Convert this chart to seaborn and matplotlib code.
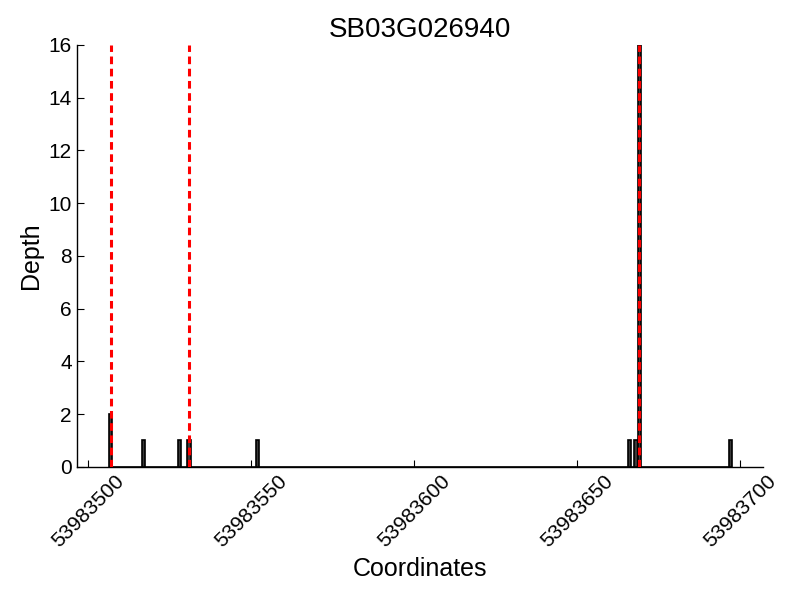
import matplotlib
matplotlib.use("Agg")
import matplotlib.pyplot as plt
import seaborn as sns
import numpy as np
import pandas as pd

title = "SB03G026940"
positions = [53983507, 53983517, 53983528, 53983531, 53983552,
             53983666, 53983668, 53983669, 53983697]
depths = [2, 1, 1, 1, 1, 1, 1, 16, 1]
markers = [53983507, 53983531, 53983669]
xticks = [53983500, 53983550, 53983600, 53983650, 53983700]
yticks = [0, 2, 4, 6, 8, 10, 12, 14, 16]

sns.set_style("ticks")
plt.rcParams['font.family'] = ['Liberation Sans', 'DejaVu Sans']
plt.rcParams['text.color'] = 'black'
plt.rcParams['axes.labelcolor'] = 'black'
plt.rcParams['xtick.color'] = 'black'
plt.rcParams['ytick.color'] = 'black'

df = pd.DataFrame({"pos": positions, "depth": depths})

fig = plt.figure(figsize=(8, 6), dpi=100)
ax = fig.add_axes([0.096, 0.222, 0.858, 0.703])

sns.histplot(data=df, x="pos", weights="depth", discrete=True, shrink=1.0,
             color="#3a3a3a", edgecolor="black", linewidth=1.2, alpha=1, ax=ax)

for m in markers:
    ax.axvline(m, color="red", linestyle=(0, (2.5, 1.5)), linewidth=2.2, zorder=5)

ax.set_xlim(53983496.6, 53983707)
ax.set_ylim(0, 16)
ax.set_xticks(xticks)
ax.set_xticklabels([str(t) for t in xticks], rotation=45, fontsize=15)
ax.set_yticks(yticks)
ax.set_yticklabels([str(t) for t in yticks], fontsize=15)
ax.tick_params(direction="in", length=5, width=0.8, colors="black")
ax.set_xlabel("Coordinates", fontsize=18)
ax.set_ylabel("Depth", fontsize=18)
ax.set_title(title, fontsize=20)
sns.despine(ax=ax)
for s in ["left", "bottom"]:
    ax.spines[s].set_color("black")
    ax.spines[s].set_linewidth(1)

fig.savefig("out.png", dpi=100)
